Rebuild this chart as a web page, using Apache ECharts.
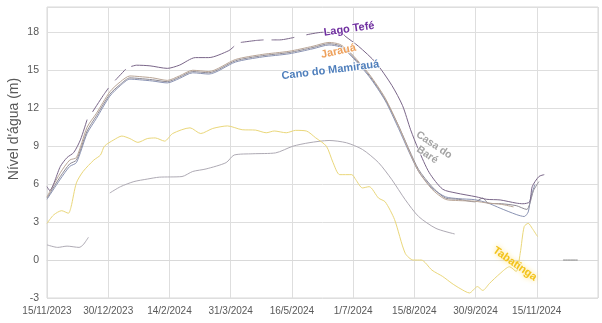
<!DOCTYPE html>
<html>
<head>
<meta charset="utf-8">
<script src="https://cdn.jsdelivr.net/npm/echarts@6/dist/echarts.min.js"></script>
<style>
  html, body { margin: 0; padding: 0; background: #ffffff; }
  #chart { width: 602px; height: 323px; }
</style>
</head>
<body>
<div id="chart"></div>
<script>
// Water level (m) per station, daily readings sampled; null marks a gap in the record.
const lagoTefe = [
  ["2023-11-15", 5.8], ["2023-11-17", 5.5], ["2023-11-25", 7.4], ["2023-11-30", 8.1],
  ["2023-12-05", 8.5], ["2023-12-10", 9.5], ["2023-12-15", 11.1], ["2023-12-17", null],
  ["2023-12-19", 11.7], ["2023-12-27", 13.0], ["2023-12-31", 13.6], ["2024-01-02", null],
  ["2024-01-05", 14.2], ["2024-01-13", 15.1], ["2024-01-15", null], ["2024-01-17", 15.3],
  ["2024-01-21", 15.4], ["2024-01-31", 15.35], ["2024-02-13", 15.15], ["2024-02-22", 15.4],
  ["2024-03-05", 16.0], ["2024-03-15", 16.0], ["2024-03-30", 16.55], ["2024-04-03", 16.9],
  ["2024-04-05", null], ["2024-04-08", 17.2], ["2024-04-19", 17.35], ["2024-04-25", 17.4],
  ["2024-04-28", null], ["2024-05-01", 17.4], ["2024-05-07", 17.4], ["2024-05-18", 17.6],
  ["2024-05-22", null], ["2024-05-27", 17.8], ["2024-06-08", 18.0], ["2024-06-23", 17.9],
  ["2024-06-25", 17.7], ["2024-07-05", 16.9], ["2024-07-18", 15.6], ["2024-07-30", 13.8],
  ["2024-08-07", 12.2], ["2024-08-13", 10.3], ["2024-08-19", 8.7], ["2024-08-27", 6.9],
  ["2024-09-06", 5.6], ["2024-09-16", 5.3], ["2024-10-01", 5.0], ["2024-10-09", 4.8],
  ["2024-10-19", 4.75], ["2024-10-31", 4.5], ["2024-11-05", 4.45], ["2024-11-10", 4.6],
  ["2024-11-12", 5.8], ["2024-11-17", 6.6], ["2024-11-21", 6.75]
];

const jaraua = [
  ["2023-11-15", 5.0], ["2023-11-25", 6.9], ["2023-12-02", 7.9], ["2023-12-07", 8.1],
  ["2023-12-15", 10.5], ["2023-12-22", 11.6], ["2024-01-01", 13.3], ["2024-01-09", 14.1],
  ["2024-01-16", 14.55], ["2024-01-23", 14.5], ["2024-02-02", 14.4], ["2024-02-13", 14.2],
  ["2024-02-22", 14.55], ["2024-03-03", 15.0], ["2024-03-15", 14.9], ["2024-04-04", 15.85],
  ["2024-04-24", 16.25], ["2024-05-14", 16.5], ["2024-06-01", 16.9], ["2024-06-13", 17.2],
  ["2024-06-21", 17.05], ["2024-06-28", 16.5], ["2024-07-13", 14.7], ["2024-07-25", 12.8],
  ["2024-08-04", 10.6], ["2024-08-12", 8.6], ["2024-08-19", 7.0], ["2024-08-29", 5.6],
  ["2024-09-08", 4.8], ["2024-09-18", 4.7], ["2024-09-30", 4.65], ["2024-10-10", 4.5],
  ["2024-10-20", 4.4], ["2024-10-29", 4.2]
];

const casaDoBare = [
  ["2023-11-15", 4.9], ["2023-11-25", 6.6], ["2023-12-02", 7.6], ["2023-12-07", 7.9],
  ["2023-12-15", 10.2], ["2023-12-22", 11.4], ["2024-01-01", 13.1], ["2024-01-09", 13.9],
  ["2024-01-16", 14.4], ["2024-01-23", 14.35], ["2024-02-02", 14.25], ["2024-02-13", 14.1],
  ["2024-02-22", 14.45], ["2024-03-03", 14.9], ["2024-03-15", 14.8], ["2024-04-04", 15.75],
  ["2024-04-24", 16.15], ["2024-05-14", 16.4], ["2024-06-01", 16.8], ["2024-06-13", 17.1],
  ["2024-06-21", 16.95], ["2024-06-28", 16.4], ["2024-07-13", 14.6], ["2024-07-25", 12.7],
  ["2024-08-04", 10.6], ["2024-08-12", 8.7], ["2024-08-19", 7.15], ["2024-08-29", 5.8],
  ["2024-09-08", 4.9], ["2024-09-18", 4.8], ["2024-09-30", 4.6], ["2024-10-06", 4.9],
  ["2024-10-10", 4.5], ["2024-10-20", 4.45], ["2024-10-31", 4.3], ["2024-11-08", 4.0],
  ["2024-11-10", 4.4], ["2024-11-13", 5.5], ["2024-11-17", 6.2]
];

const canoMamiraua = [
  ["2023-11-15", 4.8], ["2023-11-25", 6.4], ["2023-12-02", 7.4], ["2023-12-07", 7.7],
  ["2023-12-15", 10.0], ["2023-12-22", 11.2], ["2024-01-01", 12.95], ["2024-01-09", 13.8],
  ["2024-01-16", 14.3], ["2024-01-23", 14.25], ["2024-02-02", 14.15], ["2024-02-13", 14.0],
  ["2024-02-22", 14.35], ["2024-03-03", 14.8], ["2024-03-15", 14.7], ["2024-04-04", 15.65],
  ["2024-04-24", 16.05], ["2024-05-14", 16.3], ["2024-06-01", 16.7], ["2024-06-13", 17.0],
  ["2024-06-21", 16.85], ["2024-06-28", 16.3], ["2024-07-13", 14.5], ["2024-07-25", 12.6],
  ["2024-08-04", 10.4], ["2024-08-12", 8.5], ["2024-08-19", 7.0], ["2024-08-29", 5.7],
  ["2024-09-08", 5.0], ["2024-09-18", 4.85], ["2024-09-30", 4.77], ["2024-10-10", 4.5],
  ["2024-10-19", 4.1], ["2024-10-31", 3.6], ["2024-11-06", 3.44], ["2024-11-09", 3.8],
  ["2024-11-11", 5.0], ["2024-11-14", 5.96]
];

const tabatinga = [
  ["2023-11-15", 2.9], ["2023-11-20", 3.57], ["2023-11-26", 3.9], ["2023-12-01", 3.7],
  ["2023-12-03", 4.2], ["2023-12-07", 6.1], ["2023-12-12", 7.0], ["2023-12-20", 7.9],
  ["2023-12-25", 8.3], ["2023-12-28", 9.0], ["2024-01-04", 9.5], ["2024-01-10", 9.8],
  ["2024-01-16", 9.6], ["2024-01-22", 9.3], ["2024-01-29", 9.6], ["2024-02-04", 9.65],
  ["2024-02-11", 9.4], ["2024-02-17", 10.0], ["2024-03-01", 10.45], ["2024-03-09", 10.0],
  ["2024-03-18", 10.4], ["2024-03-29", 10.6], ["2024-04-09", 10.3], ["2024-04-19", 10.27],
  ["2024-04-27", 10.06], ["2024-05-03", 10.2], ["2024-05-12", 10.06], ["2024-05-19", 10.25],
  ["2024-05-27", 10.2], ["2024-06-03", 9.66], ["2024-06-11", 9.0], ["2024-06-16", 7.7],
  ["2024-06-21", 6.75], ["2024-06-30", 6.75], ["2024-07-03", 6.35], ["2024-07-08", 5.7],
  ["2024-07-13", 5.8], ["2024-07-20", 4.9], ["2024-07-25", 4.6], ["2024-08-01", 3.2],
  ["2024-08-09", 0.53], ["2024-08-15", 0.0], ["2024-08-21", 0.0], ["2024-08-29", -0.8],
  ["2024-09-06", -1.3], ["2024-09-13", -1.85], ["2024-09-19", -2.25], ["2024-09-26", -2.6],
  ["2024-10-02", -2.1], ["2024-10-06", -2.4], ["2024-10-11", -1.85], ["2024-10-19", -1.06],
  ["2024-10-26", -0.53], ["2024-10-31", -0.9], ["2024-11-03", 0.53], ["2024-11-06", 2.65],
  ["2024-11-09", 2.9], ["2024-11-12", 2.5], ["2024-11-16", 1.85]
];

const outraEstacao = [
  ["2023-11-15", 1.2], ["2023-11-23", 1.0], ["2023-11-30", 1.1], ["2023-12-09", 1.0],
  ["2023-12-12", 1.2], ["2023-12-16", 1.8], ["2023-12-20", null],
  ["2024-01-01", 5.3], ["2024-01-09", 5.8], ["2024-01-19", 6.2], ["2024-01-29", 6.4],
  ["2024-02-07", 6.55], ["2024-02-24", 6.6], ["2024-03-03", 7.0], ["2024-03-13", 7.2],
  ["2024-03-28", 7.7], ["2024-04-03", 8.3], ["2024-04-17", 8.4], ["2024-05-04", 8.47],
  ["2024-05-17", 9.0], ["2024-05-29", 9.27], ["2024-06-13", 9.45], ["2024-06-26", 9.27],
  ["2024-07-08", 8.74], ["2024-07-20", 7.7], ["2024-07-30", 6.35], ["2024-08-09", 4.77],
  ["2024-08-19", 3.44], ["2024-09-01", 2.5], ["2024-09-15", 2.06]
];

const estacaoDezembro = [["2024-12-05", 0.0], ["2024-12-16", 0.0]];

// Station names written next to their curves: text and the date/level it sits at.
const curveLabels = [
  { text: "Lago Tefé", date: "2024-06-28", level: 18.25 },
  { text: "Jarauá", date: "2024-06-20", level: 16.5 },
  { text: "Cano do Mamirauá", date: "2024-06-14", level: 15.0 },
  { text: "Casa do\nBaré", date: "2024-08-28", level: 8.7 },
  { text: "Tabatinga", date: "2024-10-30", level: -0.3 }
];

const axisTitle = "Nível d'água (m)";

// ---- axis setup: dates as days counted from the first tick ----
const START = Date.UTC(2023, 10, 15);
const DAY = 86400000;
const TICK_STEP = 45.8;           // days between date gridlines
const X_MAX = 9 * TICK_STEP;
const Y_MIN = -3, Y_MAX = 20, Y_STEP = 3;

function toDays(s) {
  const [y, m, d] = s.split("-").map(Number);
  return (Date.UTC(y, m - 1, d) - START) / DAY;
}
function toPoints(rows) {
  return rows.map(([d, v]) => [toDays(d), v === null ? "-" : v]);
}
function dayLabel(v) {
  const k = v / TICK_STEP;
  if (Math.abs(k - Math.round(k)) > 1e-6 || v >= X_MAX - 1e-6) return "";
  const dt = new Date(START + Math.floor(v + 1e-6) * DAY);
  return dt.getUTCDate() + "/" + (dt.getUTCMonth() + 1) + "/" + dt.getUTCFullYear();
}

const FONT = "'Liberation Sans', Arial, sans-serif";

const lineStyles = {
  "Lago Tefé": "#7a6689",
  "Jarauá": "#b9a596",
  "Casa do Baré": "#8e8a94",
  "Cano do Mamirauá": "#8a93b3",
  "Tabatinga": "#ead77a",
  "Outra estação": "#aeaab4",
  "Estação (dez.)": "#8a8a8a"
};

const labelStyles = {
  "Lago Tefé": { fill: "#7030a0", rotate: 8, size: 11 },
  "Jarauá": { fill: "#eea15c", rotate: 12, size: 11 },
  "Cano do Mamirauá": { fill: "#4f7fbc", rotate: 7, size: 11 },
  "Casa do\nBaré": { fill: "#a3a3a3", rotate: -34, size: 10.5 },
  "Tabatinga": { fill: "#f2c21b", rotate: -35, size: 11, glow: true }
};

function lineSeries(name, rows) {
  return {
    name: name,
    type: "line",
    data: toPoints(rows),
    showSymbol: false,
    symbol: "none",
    connectNulls: false,
    smooth: 0.25,
    lineStyle: { width: 1, color: lineStyles[name] },
    emphasis: { disabled: true },
    z: 2
  };
}

const chart = echarts.init(document.getElementById("chart"), null, { renderer: "canvas" });

chart.setOption({
  animation: false,
  backgroundColor: "#ffffff",
  grid: {
    left: 47, right: 4, top: 7, bottom: 25,
    show: true, borderColor: "#d9d9d9", borderWidth: 1, backgroundColor: "transparent"
  },
  xAxis: {
    type: "value",
    min: 0, max: X_MAX, interval: TICK_STEP,
    axisLine: { show: true, lineStyle: { color: "#d9d9d9" } },
    axisTick: { show: false },
    splitLine: { show: true, lineStyle: { color: "#dedede", width: 1 } },
    axisLabel: {
      color: "#595959", fontFamily: FONT, fontSize: 10, margin: 8,
      formatter: dayLabel
    }
  },
  yAxis: {
    type: "value",
    min: Y_MIN, max: Y_MAX, interval: Y_STEP,
    axisLine: { show: false },
    axisTick: { show: false },
    splitLine: { show: true, lineStyle: { color: "#dedede", width: 1 } },
    axisLabel: {
      color: "#595959", fontFamily: FONT, fontSize: 10.5, margin: 8,
      formatter: v => ((v - Y_MIN) % Y_STEP === 0 && v < Y_MAX ? String(v) : "")
    }
  },
  series: [
    lineSeries("Outra estação", outraEstacao),
    lineSeries("Tabatinga", tabatinga),
    lineSeries("Cano do Mamirauá", canoMamiraua),
    lineSeries("Casa do Baré", casaDoBare),
    lineSeries("Jarauá", jaraua),
    lineSeries("Lago Tefé", lagoTefe),
    lineSeries("Estação (dez.)", estacaoDezembro)
  ]
});

// Curve names placed at data positions, plus the rotated y-axis title.
const graphics = curveLabels.map(lb => {
  const st = labelStyles[lb.text];
  const [px, py] = chart.convertToPixel({ gridIndex: 0 }, [toDays(lb.date), lb.level]);
  const style = {
    text: lb.text,
    fill: st.fill,
    font: "bold " + st.size + "px " + FONT,
    align: "center",
    verticalAlign: "middle",
    lineHeight: 12
  };
  if (st.glow) {
    style.textShadowColor = "rgba(255, 220, 90, 0.9)";
    style.textShadowBlur = 5;
  } else {
    style.stroke = "rgba(255,255,255,0.8)";
    style.lineWidth = 2;
  }
  return { type: "text", x: px, y: py, rotation: st.rotate * Math.PI / 180, style: style, z: 10 };
});

graphics.push({
  type: "text",
  x: 14, y: 129,
  rotation: Math.PI / 2,
  style: {
    text: axisTitle,
    fill: "#595959",
    font: "14px " + FONT,
    align: "center",
    verticalAlign: "middle"
  },
  z: 10
});

chart.setOption({ graphic: graphics });
</script>
</body>
</html>
